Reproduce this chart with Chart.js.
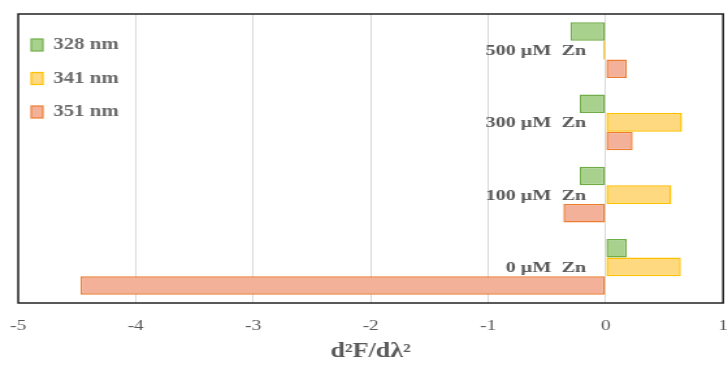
<!DOCTYPE html>
<html>
<head>
<meta charset="utf-8">
<script src="https://cdn.jsdelivr.net/npm/chart.js@4"></script>
<style>
  html, body { margin: 0; padding: 0; background: #fff; }
  /* the original figure is stretched sideways, so the canvas is drawn narrower and widened by css */
  #chart { display: block; width: 728px; height: 368px; }
</style>
</head>
<body>
<canvas id="chart" width="560" height="368" style="width:728px;height:368px"></canvas>
<script>
const categories = ['500 µM  Zn', '300 µM  Zn', '100 µM  Zn', '0 µM  Zn'];
const seriesNames = ['328 nm', '341 nm', '351 nm'];
const values328 = [-0.30, -0.22, -0.22, 0.18];
const values341 = [-0.02, 0.65, 0.56, 0.64];
const values351 = [0.18, 0.23, -0.36, -4.47];
const xMin = -5;
const xMax = 1;
const xTitle = 'd²F/dλ²';

const fills = ['#a9d18e', '#ffd97f', '#f4b19a'];
const borders = ['#70ad47', '#ffc000', '#ed7d31'];
const textGrey = '#595959';
const serif = '"Liberation Serif", "Times New Roman", serif';

// legend sits inside the plot, top-left
const insideLegend = {
  id: 'insideLegend',
  afterDraw(chart) {
    const { ctx, chartArea } = chart;
    ctx.save();
    ctx.font = 'bold 16px ' + serif;
    ctx.textBaseline = 'middle';
    chart.data.datasets.forEach((ds, i) => {
      const x = chartArea.left + 10;
      const y = chartArea.top + 31 + i * 33.5;
      ctx.fillStyle = ds.backgroundColor;
      ctx.strokeStyle = ds.borderColor;
      ctx.lineWidth = 1.2;
      ctx.fillRect(x, y - 6, 9, 12);
      ctx.strokeRect(x, y - 6, 9, 12);
      ctx.fillStyle = '#6a6a6a';
      ctx.fillText(ds.label, x + 17, y);
    });
    ctx.restore();
  }
};

// category names are written just left of the zero line
const zeroLabels = {
  id: 'zeroLabels',
  afterDatasetsDraw(chart) {
    const { ctx, scales } = chart;
    const x0 = scales.x.getPixelForValue(0);
    ctx.save();
    ctx.font = 'bold 15.5px ' + serif;
    ctx.fillStyle = textGrey;
    ctx.textAlign = 'right';
    ctx.textBaseline = 'middle';
    chart.data.labels.forEach((lab, i) => {
      ctx.fillText(lab, x0 - 15, scales.y.getPixelForTick(i) + 1);
    });
    ctx.restore();
  }
};

// dark frame round the plot area
const frame = {
  id: 'frame',
  afterDraw(chart) {
    const { ctx, chartArea } = chart;
    ctx.save();
    ctx.strokeStyle = '#222';
    ctx.lineWidth = 1.5;
    ctx.strokeRect(chartArea.left, chartArea.top, chartArea.right - chartArea.left, chartArea.bottom - chartArea.top);
    ctx.restore();
  }
};

const series = [values328, values341, values351];

new Chart(document.getElementById('chart'), {
  type: 'bar',
  data: {
    labels: categories,
    datasets: series.map((vals, i) => ({
      label: seriesNames[i],
      data: vals,
      backgroundColor: fills[i],
      borderColor: borders[i],
      borderWidth: 1.5,
      borderSkipped: false,
      categoryPercentage: 0.77,
      barPercentage: 1.0
    }))
  },
  options: {
    indexAxis: 'y',
    responsive: false,
    animation: false,
    layout: { padding: { left: 14, right: 0, top: 14, bottom: 0 } },
    plugins: {
      legend: { display: false },
      tooltip: { enabled: false }
    },
    scales: {
      x: {
        min: xMin,
        max: xMax,
        ticks: {
          stepSize: 1,
          padding: 0,
          color: textGrey,
          font: { family: serif, size: 15 }
        },
        // invisible tick marks push the labels down without widening the side padding
        grid: { color: '#d9d9d9', lineWidth: 1, drawTicks: true, tickLength: 14, tickColor: 'rgba(0,0,0,0)' },
        border: { display: false },
        title: {
          display: true,
          text: xTitle,
          color: textGrey,
          font: { family: serif, size: 20, weight: 'bold' },
          padding: { top: 5, bottom: 4 }
        }
      },
      y: {
        ticks: { display: false },
        grid: { display: false, drawTicks: false },
        border: { display: false }
      }
    }
  },
  plugins: [zeroLabels, insideLegend, frame]
});
</script>
</body>
</html>
